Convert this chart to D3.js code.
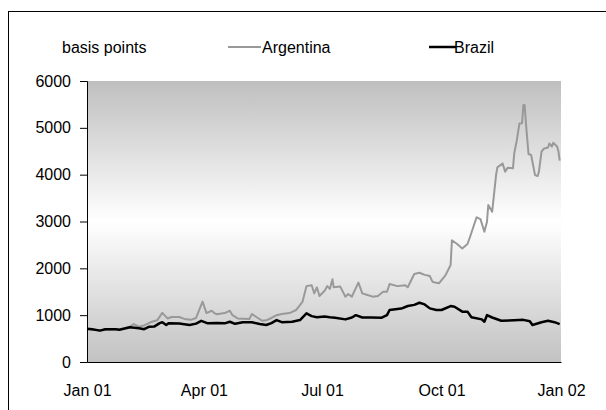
<!DOCTYPE html>
<html>
<head>
<meta charset="utf-8">
<script src="https://cdn.jsdelivr.net/npm/d3@7/dist/d3.min.js"></script>
<style>
  html, body { margin: 0; padding: 0; background: #fff; }
  svg { display: block; }
  text { font-family: "Liberation Sans", Arial, sans-serif; font-size: 16px; fill: #000; }
</style>
</head>
<body>
<svg id="chart" width="606" height="410"></svg>
<script>
// Sovereign spreads, basis points, 2001
const argentinaDates = ["2001-01-01","2001-01-05","2001-01-11","2001-01-19","2001-01-26","2001-01-30","2001-02-03","2001-02-06","2001-02-10","2001-02-14","2001-02-20","2001-02-24","2001-02-28","2001-03-04","2001-03-07","2001-03-13","2001-03-17","2001-03-22","2001-03-26","2001-03-31","2001-04-03","2001-04-07","2001-04-09","2001-04-11","2001-04-17","2001-04-21","2001-04-23","2001-04-27","2001-05-01","2001-05-06","2001-05-08","2001-05-12","2001-05-16","2001-05-19","2001-05-23","2001-05-27","2001-05-31","2001-06-06","2001-06-11","2001-06-14","2001-06-16","2001-06-19","2001-06-23","2001-06-25","2001-06-27","2001-06-29","2001-07-03","2001-07-05","2001-07-07","2001-07-09","2001-07-10","2001-07-15","2001-07-19","2001-07-21","2001-07-24","2001-07-26","2001-07-29","2001-08-01","2001-08-05","2001-08-09","2001-08-13","2001-08-17","2001-08-20","2001-08-22","2001-08-28","2001-09-03","2001-09-05","2001-09-10","2001-09-14","2001-09-18","2001-09-22","2001-09-24","2001-09-27","2001-09-29","2001-10-04","2001-10-08","2001-10-09","2001-10-13","2001-10-17","2001-10-21","2001-10-23","2001-10-28","2001-10-31","2001-11-03","2001-11-05","2001-11-06","2001-11-09","2001-11-12","2001-11-13","2001-11-17","2001-11-19","2001-11-21","2001-11-25","2001-11-26","2001-11-28","2001-11-30","2001-12-02","2001-12-03","2001-12-04","2001-12-05","2001-12-07","2001-12-09","2001-12-12","2001-12-14","2001-12-15","2001-12-17","2001-12-19","2001-12-22","2001-12-23","2001-12-25","2001-12-26","2001-12-29","2001-12-30","2001-12-31"];
const argentinaValues = [700,690,680,690,700,720,755,810,755,780,860,890,1050,930,960,960,920,900,940,1290,1045,1095,1045,1020,1045,1095,1000,930,925,920,1025,950,880,890,940,1000,1025,1045,1110,1215,1290,1620,1640,1465,1595,1410,1520,1620,1560,1765,1595,1610,1395,1450,1395,1520,1695,1465,1430,1395,1410,1500,1500,1665,1620,1640,1595,1880,1905,1860,1835,1715,1690,1680,1850,2070,2600,2520,2425,2520,2675,3090,3050,2780,2995,3350,3210,3990,4155,4240,4065,4150,4135,4455,4740,5095,5100,5485,5485,5095,4440,4420,3990,3970,4065,4490,4560,4580,4665,4600,4680,4600,4500,4300];

const brazilDates = ["2001-01-01","2001-01-05","2001-01-11","2001-01-15","2001-01-23","2001-01-26","2001-02-03","2001-02-10","2001-02-14","2001-02-18","2001-02-22","2001-02-26","2001-02-28","2001-03-03","2001-03-05","2001-03-13","2001-03-21","2001-03-26","2001-03-30","2001-04-04","2001-04-11","2001-04-17","2001-04-21","2001-04-25","2001-05-01","2001-05-08","2001-05-14","2001-05-19","2001-05-23","2001-05-27","2001-05-31","2001-06-08","2001-06-14","2001-06-19","2001-06-23","2001-06-27","2001-07-03","2001-07-07","2001-07-11","2001-07-19","2001-07-24","2001-07-27","2001-08-01","2001-08-08","2001-08-16","2001-08-20","2001-08-22","2001-08-28","2001-08-31","2001-09-05","2001-09-10","2001-09-14","2001-09-18","2001-09-22","2001-09-27","2001-10-01","2001-10-08","2001-10-11","2001-10-17","2001-10-21","2001-10-24","2001-11-01","2001-11-03","2001-11-05","2001-11-09","2001-11-16","2001-11-26","2001-12-03","2001-12-08","2001-12-10","2001-12-17","2001-12-22","2001-12-27","2001-12-31"];
const brazilValues = [710,700,670,700,700,690,740,720,700,755,760,830,850,790,830,820,790,820,880,825,835,825,860,815,850,850,810,790,830,895,850,860,895,1040,980,955,970,955,945,910,950,1000,950,950,945,1000,1110,1130,1140,1195,1220,1265,1230,1145,1110,1110,1195,1180,1075,1075,955,910,860,1000,950,880,890,900,870,790,850,880,850,810];

const xTickDates = ["2001-01-01","2001-04-01","2001-07-01","2001-10-01","2002-01-01"];
const xTickLabels = ["Jan 01","Apr 01","Jul 01","Oct 01","Jan 02"];
const yTicks = [0,1000,2000,3000,4000,5000,6000];
const unitLabel = "basis points";
const seriesNames = ["Argentina","Brazil"];

const parse = d3.timeParse("%Y-%m-%d");
const svg = d3.select("#chart");

// outer frame
svg.append("rect")
  .attr("x", 8.5).attr("y", 11.5)
  .attr("width", 620).attr("height", 420)
  .attr("fill", "#fff").attr("stroke", "#000").attr("stroke-width", 1);

const plot = { left: 87, right: 561, top: 81, bottom: 362 };

const x = d3.scaleTime()
  .domain([parse(xTickDates[0]), parse(xTickDates[xTickDates.length - 1])])
  .range([plot.left, plot.right]);
const y = d3.scaleLinear().domain([0, 6000]).range([plot.bottom, plot.top]);

// plot-area gradient: grey at the edges, white in the middle
const grad = svg.append("defs").append("linearGradient")
  .attr("id", "bg").attr("x1", 0).attr("y1", 0).attr("x2", 0).attr("y2", 1);
grad.append("stop").attr("offset", "0%").attr("stop-color", "#bfbfbf");
grad.append("stop").attr("offset", "50%").attr("stop-color", "#ffffff");
grad.append("stop").attr("offset", "100%").attr("stop-color", "#c2c2c2");

svg.append("rect")
  .attr("x", plot.left).attr("y", plot.top)
  .attr("width", plot.right - plot.left).attr("height", plot.bottom - plot.top)
  .attr("fill", "url(#bg)");

// series lines
const line = d3.line().x(d => x(d.date)).y(d => y(d.value));
const arg = argentinaDates.map((d, i) => ({ date: parse(d), value: argentinaValues[i] }));
const bra = brazilDates.map((d, i) => ({ date: parse(d), value: brazilValues[i] }));

svg.append("path").datum(arg).attr("d", line)
  .attr("fill", "none").attr("stroke", "#999999").attr("stroke-width", 2)
  .attr("stroke-linejoin", "round");
svg.append("path").datum(bra).attr("d", line)
  .attr("fill", "none").attr("stroke", "#000000").attr("stroke-width", 2.5)
  .attr("stroke-linejoin", "round");

// y axis
const yAxis = svg.append("g")
  .attr("transform", `translate(${plot.left},0)`)
  .call(d3.axisLeft(y).tickValues(yTicks).tickSize(7).tickPadding(9).tickFormat(d3.format("d")));
yAxis.select(".domain").attr("stroke", "#000");
yAxis.selectAll(".tick line").attr("stroke", "#000");
yAxis.selectAll("text").attr("font-size", 16).attr("font-family", null);

// x axis
const xAxis = svg.append("g")
  .attr("transform", `translate(0,${plot.bottom})`)
  .call(d3.axisBottom(x)
    .tickValues(xTickDates.map(parse))
    .tickSize(0).tickPadding(23)
    .tickFormat((d, i) => xTickLabels[i]));
xAxis.select(".domain").attr("stroke", "#000");
xAxis.selectAll("text").attr("font-size", 16).attr("font-family", null);

// legend row
const legendY = 47;
svg.append("text").attr("x", 62).attr("y", legendY).attr("dy", "0.35em").text(unitLabel);
svg.append("line").attr("x1", 228).attr("x2", 261).attr("y1", legendY).attr("y2", legendY)
  .attr("stroke", "#999999").attr("stroke-width", 2);
svg.append("text").attr("x", 262).attr("y", legendY).attr("dy", "0.35em").text(seriesNames[0]);
svg.append("line").attr("x1", 429).attr("x2", 456).attr("y1", legendY).attr("y2", legendY)
  .attr("stroke", "#000").attr("stroke-width", 2.5);
svg.append("text").attr("x", 454).attr("y", legendY).attr("dy", "0.35em").text(seriesNames[1]);
</script>
</body>
</html>
